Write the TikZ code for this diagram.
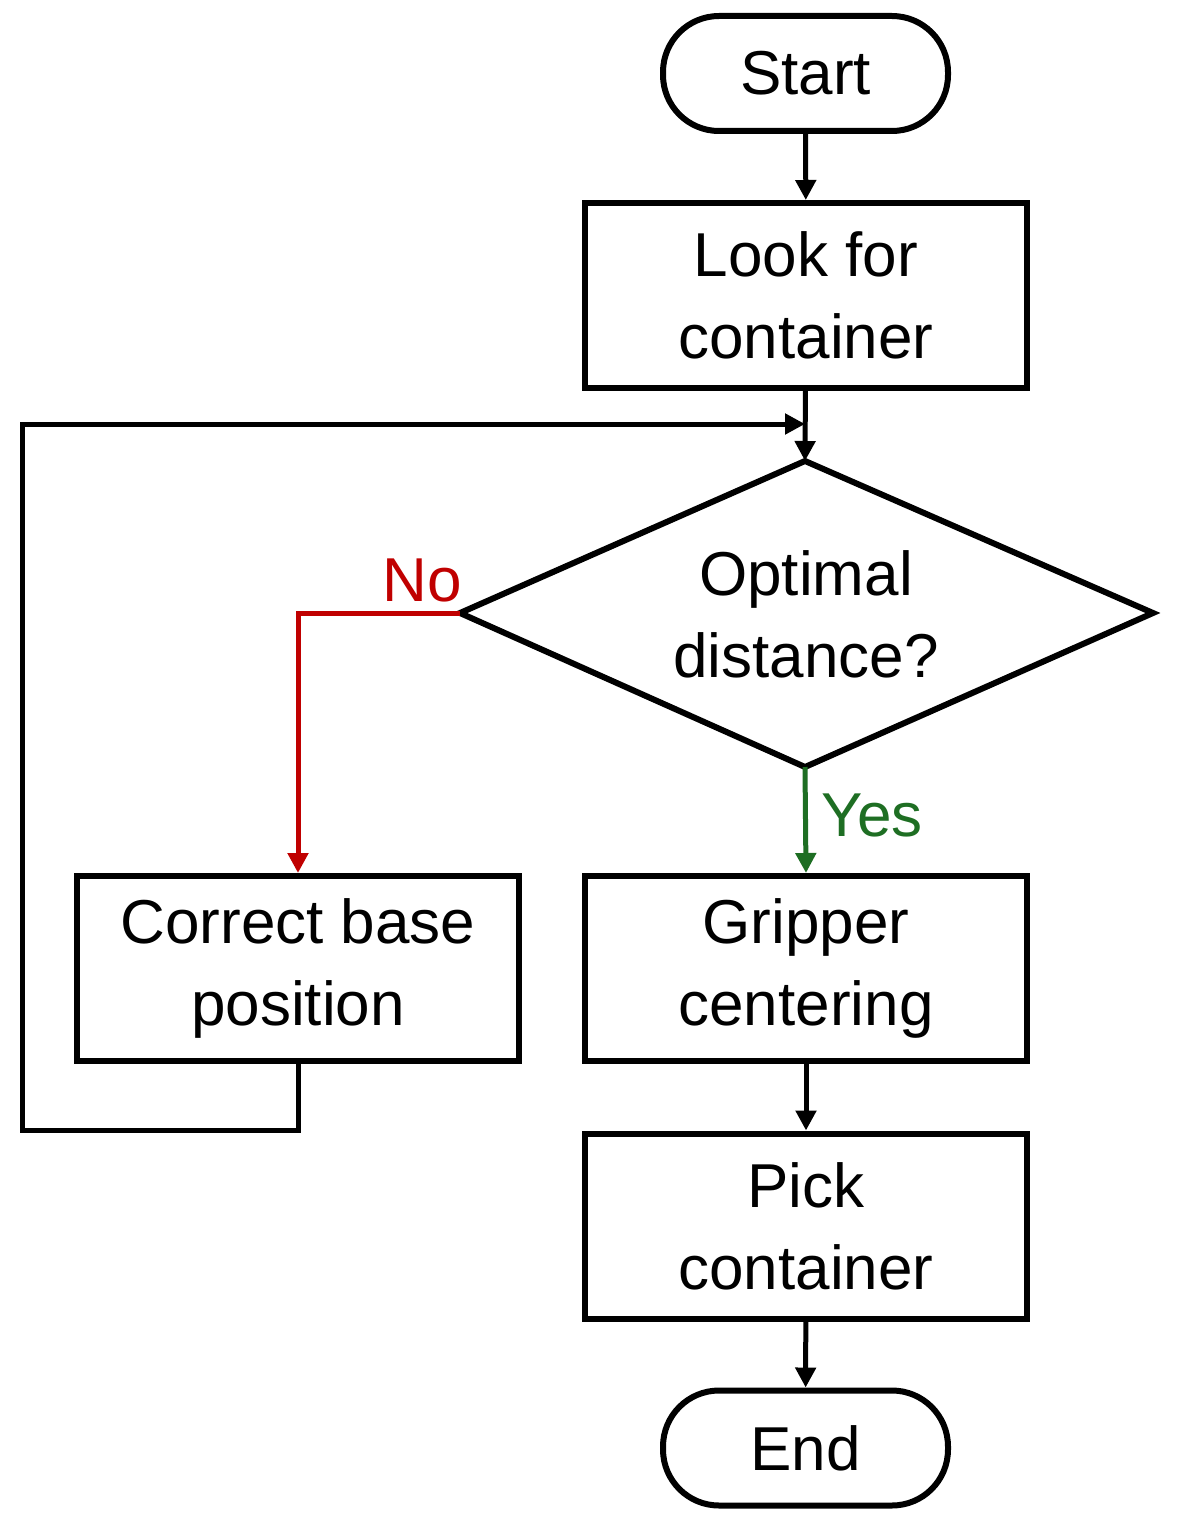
\documentclass[tikz,border=0pt]{standalone}
\usepackage{fontspec}
\setmainfont{Liberation Sans}
\usetikzlibrary{arrows.meta,shapes.geometric}
\definecolor{nored}{RGB}{192,0,0}
\definecolor{yesgreen}{RGB}{30,110,35}
\begin{document}
\begin{tikzpicture}[x=0.5pt,y=-0.5pt,
  every node/.style={font=\fontsize{31}{41}\selectfont, align=center, inner sep=0pt},
  box/.style={draw, line width=3pt, minimum width=221pt, minimum height=92.5pt},
  term/.style={draw, line width=3pt, rounded corners=28pt, minimum width=142.5pt, minimum height=57.5pt},
  ln/.style={line width=2.5pt, -{Triangle[length=10pt,width=10pt]}}]
\useasboundingbox (0,0) rectangle (1181,1536);
\node[term] (start) at (805.5,73.5) {Start};
\node[box] (look) at (806,295.5) {Look for\\container};
\draw[line width=3pt] (460,613) coordinate (dl) -- (805,461) coordinate (dt) -- (1153,613) coordinate (dr) -- (805,767) coordinate (db) -- cycle;
\node (dtext) at (806,614) {Optimal\\distance?};
\node[box] (corr) at (298,968.5) {Correct base\\position};
\node[box] (grip) at (806,968.5) {Gripper\\centering};
\node[box] (pick) at (806,1226) {Pick\\container};
\node[term] (end) at (805.5,1448) {End};
\coordinate (merge) at (805,424);
\draw[ln] (start) -- (look);
\draw[ln] (look) -- (dt);
\draw[ln] (corr.south) -- (298,1130) -- (22,1130) -- (22,424) -- (merge);
\draw[ln, color=nored] (dl) -- (298,613) -- (corr.north);
\node[text=nored] at (422,580) {No};
\draw[ln, color=yesgreen] (db) -- (grip.north);
\node[text=yesgreen] at (872,815) {Yes};
\draw[ln] (grip) -- (pick);
\draw[ln] (pick) -- (end);
\end{tikzpicture}
\end{document}
